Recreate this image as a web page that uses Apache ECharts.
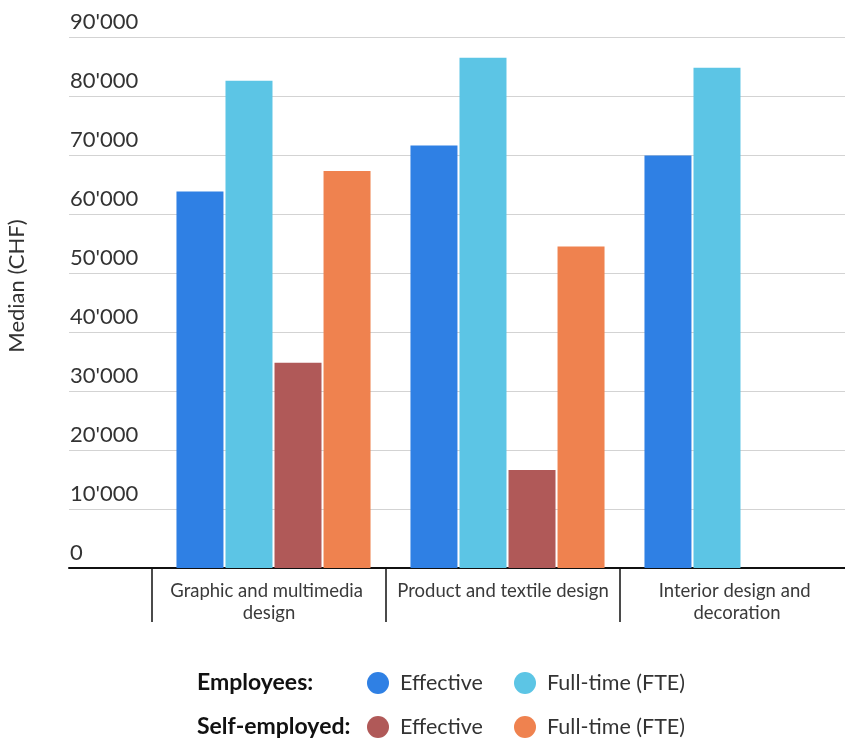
<!DOCTYPE html>
<html>
<head>
<meta charset="utf-8">
<script src="https://cdn.jsdelivr.net/npm/echarts@6/dist/echarts.min.js"></script>
<style>
  html, body { margin: 0; padding: 0; background: #fff; }
  #chart { width: 845px; height: 739px; }
</style>
</head>
<body>
<div id="chart"></div>
<script>
// Median annual income (CHF) by design field
const categories = ['Graphic and multimedia design', 'Product and textile design', 'Interior design and decoration'];
const employeesEffective = [63800, 71600, 69900];
const employeesFTE = [82600, 86500, 84800];
const selfEmployedEffective = [34800, 16600, null];
const selfEmployedFTE = [67300, 54500, null];

const yMin = 0;
const yMax = 90000;
const yStep = 10000;

const groupLabels = ['Employees:', 'Self-employed:'];
const itemLabels = ['Effective', 'Full-time (FTE)'];
const colors = ['#2F80E4', '#5CC5E5', '#B05958', '#EF824F'];

const FONT = 'Lato, "Noto Sans", sans-serif';
const TOP = 37, HEIGHT = 531;

function thousands(v) {
  return String(v).replace(/\B(?=(\d{3})+(?!\d))/g, "'");
}

const seriesDefs = [
  { id: 'emp-eff', data: employeesEffective, label: itemLabels[0] },
  { id: 'emp-fte', data: employeesFTE, label: itemLabels[1] },
  { id: 'self-eff', data: selfEmployedEffective, label: itemLabels[0] },
  { id: 'self-fte', data: selfEmployedFTE, label: itemLabels[1] }
];

const chart = echarts.init(document.getElementById('chart'), null, { renderer: 'canvas' });

const legendPos = [
  { left: 367, top: 672 }, { left: 514, top: 672 },
  { left: 367, top: 716 }, { left: 514, top: 716 }
];

chart.setOption({
  backgroundColor: '#ffffff',
  animation: false,
  color: colors,
  textStyle: { fontFamily: FONT },
  grid: [
    // value grid: gridlines, y labels and baseline
    { left: 69, right: 0, top: TOP, height: HEIGHT, outerBoundsMode: 'none' },
    // category separators and labels (last category runs past the right edge)
    { left: 152, width: 702, top: TOP, height: HEIGHT, outerBoundsMode: 'none' },
    // bars
    { left: 156.5, width: 702, top: TOP, height: HEIGHT, outerBoundsMode: 'none' }
  ],
  xAxis: [
    {
      gridIndex: 0, type: 'value', min: 0, max: 1,
      axisLine: { show: true, lineStyle: { color: '#111', width: 2 } },
      axisTick: { show: false }, axisLabel: { show: false }, splitLine: { show: false }
    },
    {
      gridIndex: 1, type: 'category', data: categories,
      axisLine: { show: false },
      axisTick: { show: true, length: 54, lineStyle: { color: '#111', width: 1.5 } },
      axisLabel: {
        interval: 0, margin: 12, color: '#3a3a3a', fontSize: 18.5, lineHeight: 22,
        width: 224, overflow: 'break', fontFamily: FONT
      },
      splitLine: { show: false }
    },
    {
      gridIndex: 2, type: 'category', data: categories, show: false
    }
  ],
  yAxis: [
    {
      gridIndex: 0, type: 'value', min: yMin, max: yMax, interval: yStep,
      axisLine: { show: false }, axisTick: { show: false },
      axisLabel: {
        inside: true, margin: 1, align: 'left', verticalAlign: 'bottom',
        padding: [0, 0, 4, 0], color: '#333', fontSize: 22, fontFamily: FONT,
        formatter: thousands
      },
      splitLine: { lineStyle: { color: '#d3d3d3', width: 1.2 } }
    },
    { gridIndex: 1, type: 'value', min: yMin, max: yMax, show: false, splitLine: { show: false } },
    { gridIndex: 2, type: 'value', min: yMin, max: yMax, show: false, splitLine: { show: false } }
  ],
  legend: seriesDefs.map((s, i) => ({
    data: [s.id],
    left: legendPos[i].left, top: legendPos[i].top,
    padding: 0,
    icon: 'circle', itemWidth: 22, itemHeight: 22,
    selectedMode: false,
    formatter: () => s.label,
    textStyle: { fontSize: 21.5, color: '#333', fontFamily: FONT, padding: [0, 0, 0, 6] }
  })),
  series: seriesDefs.map((s, i) => ({
    name: s.id,
    type: 'bar',
    xAxisIndex: 2, yAxisIndex: 2,
    data: s.data,
    barWidth: 47,
    barGap: '4.3%',
    itemStyle: { color: colors[i] }
  })),
  graphic: [
    {
      type: 'text', x: 17, y: 286, rotation: Math.PI / 2,
      style: { text: 'Median (CHF)', font: '22px ' + FONT, fill: '#333', align: 'center', verticalAlign: 'middle' }
    },
    {
      type: 'text', x: 197, y: 683,
      style: { text: groupLabels[0], font: 'bold 23px ' + FONT, fill: '#111', align: 'left', verticalAlign: 'middle' }
    },
    {
      type: 'text', x: 197, y: 727,
      style: { text: groupLabels[1], font: 'bold 23px ' + FONT, fill: '#111', align: 'left', verticalAlign: 'middle' }
    }
  ]
});
</script>
</body>
</html>
